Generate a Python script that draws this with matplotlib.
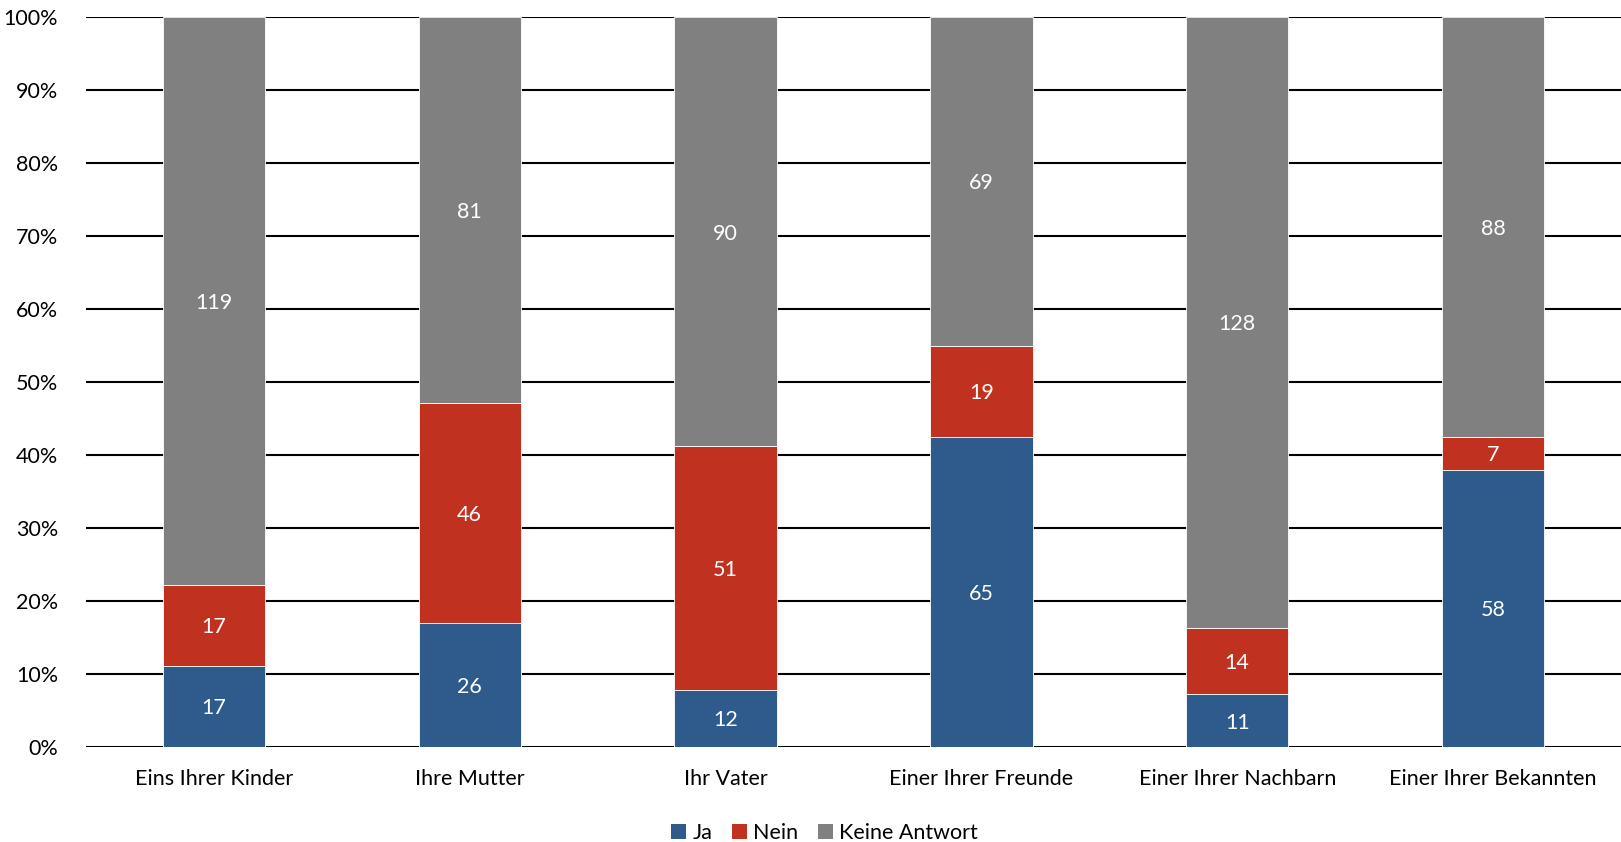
import matplotlib

matplotlib.use("Agg")
import matplotlib.pyplot as plt
import numpy as np
from matplotlib.patches import Patch

plt.rcParams["font.family"] = ["Lato", "DejaVu Sans"]

categories = ["Eins Ihrer Kinder", "Ihre Mutter", "Ihr Vater",
              "Einer Ihrer Freunde", "Einer Ihrer Nachbarn", "Einer Ihrer Bekannten"]
ja = [17, 26, 12, 65, 11, 58]
nein = [17, 46, 51, 19, 14, 7]
keine = [119, 81, 90, 69, 128, 88]

series = [("Ja", ja, "#2E5A8C"), ("Nein", nein, "#C0321F"), ("Keine Antwort", keine, "#808080")]

totals = np.array(ja) + np.array(nein) + np.array(keine)
x = np.arange(len(categories))
FS = 15.5

fig = plt.figure(figsize=(16.21, 8.42), dpi=100)
ax = fig.add_axes([0.053, 0.113, 0.947, 0.867])

bottom = np.zeros(len(categories))
for name, vals, color in series:
    v = np.array(vals)
    share = v / totals
    ax.bar(x, share, width=0.4, bottom=bottom, color=color, edgecolor="white",
           linewidth=0.6, zorder=3, label=name)
    for xi, b, s, n in zip(x, bottom, share, v):
        ax.text(xi, b + s / 2, str(n), ha="center", va="center_baseline", color="white",
                fontsize=FS, zorder=4)
    bottom += share

ax.set_xlim(-0.5, len(categories) - 0.5)
ax.set_ylim(0, 1)
ticks = np.arange(0, 1.01, 0.1)
ax.set_yticks(ticks)
ax.set_yticklabels([f"{int(round(t * 100))}%" for t in ticks], fontsize=FS)
ax.set_xticks(x)
ax.set_xticklabels(categories, fontsize=FS)
ax.tick_params(length=0)
ax.tick_params(axis="x", pad=16)
ax.tick_params(axis="y", pad=20)
ax.grid(axis="y", color="black", lw=1.5, zorder=0)
ax.set_axisbelow(True)
for s in ax.spines.values():
    s.set_visible(False)

ax.legend(handles=[Patch(facecolor=c, label=n) for n, _, c in series],
          loc="lower center", bbox_to_anchor=(0.481, -0.158), ncol=3,
          frameon=False, fontsize=FS, handlelength=0.7, handleheight=0.7,
          handletextpad=0.3, columnspacing=0.9)

fig.savefig("out.png", dpi=100)
